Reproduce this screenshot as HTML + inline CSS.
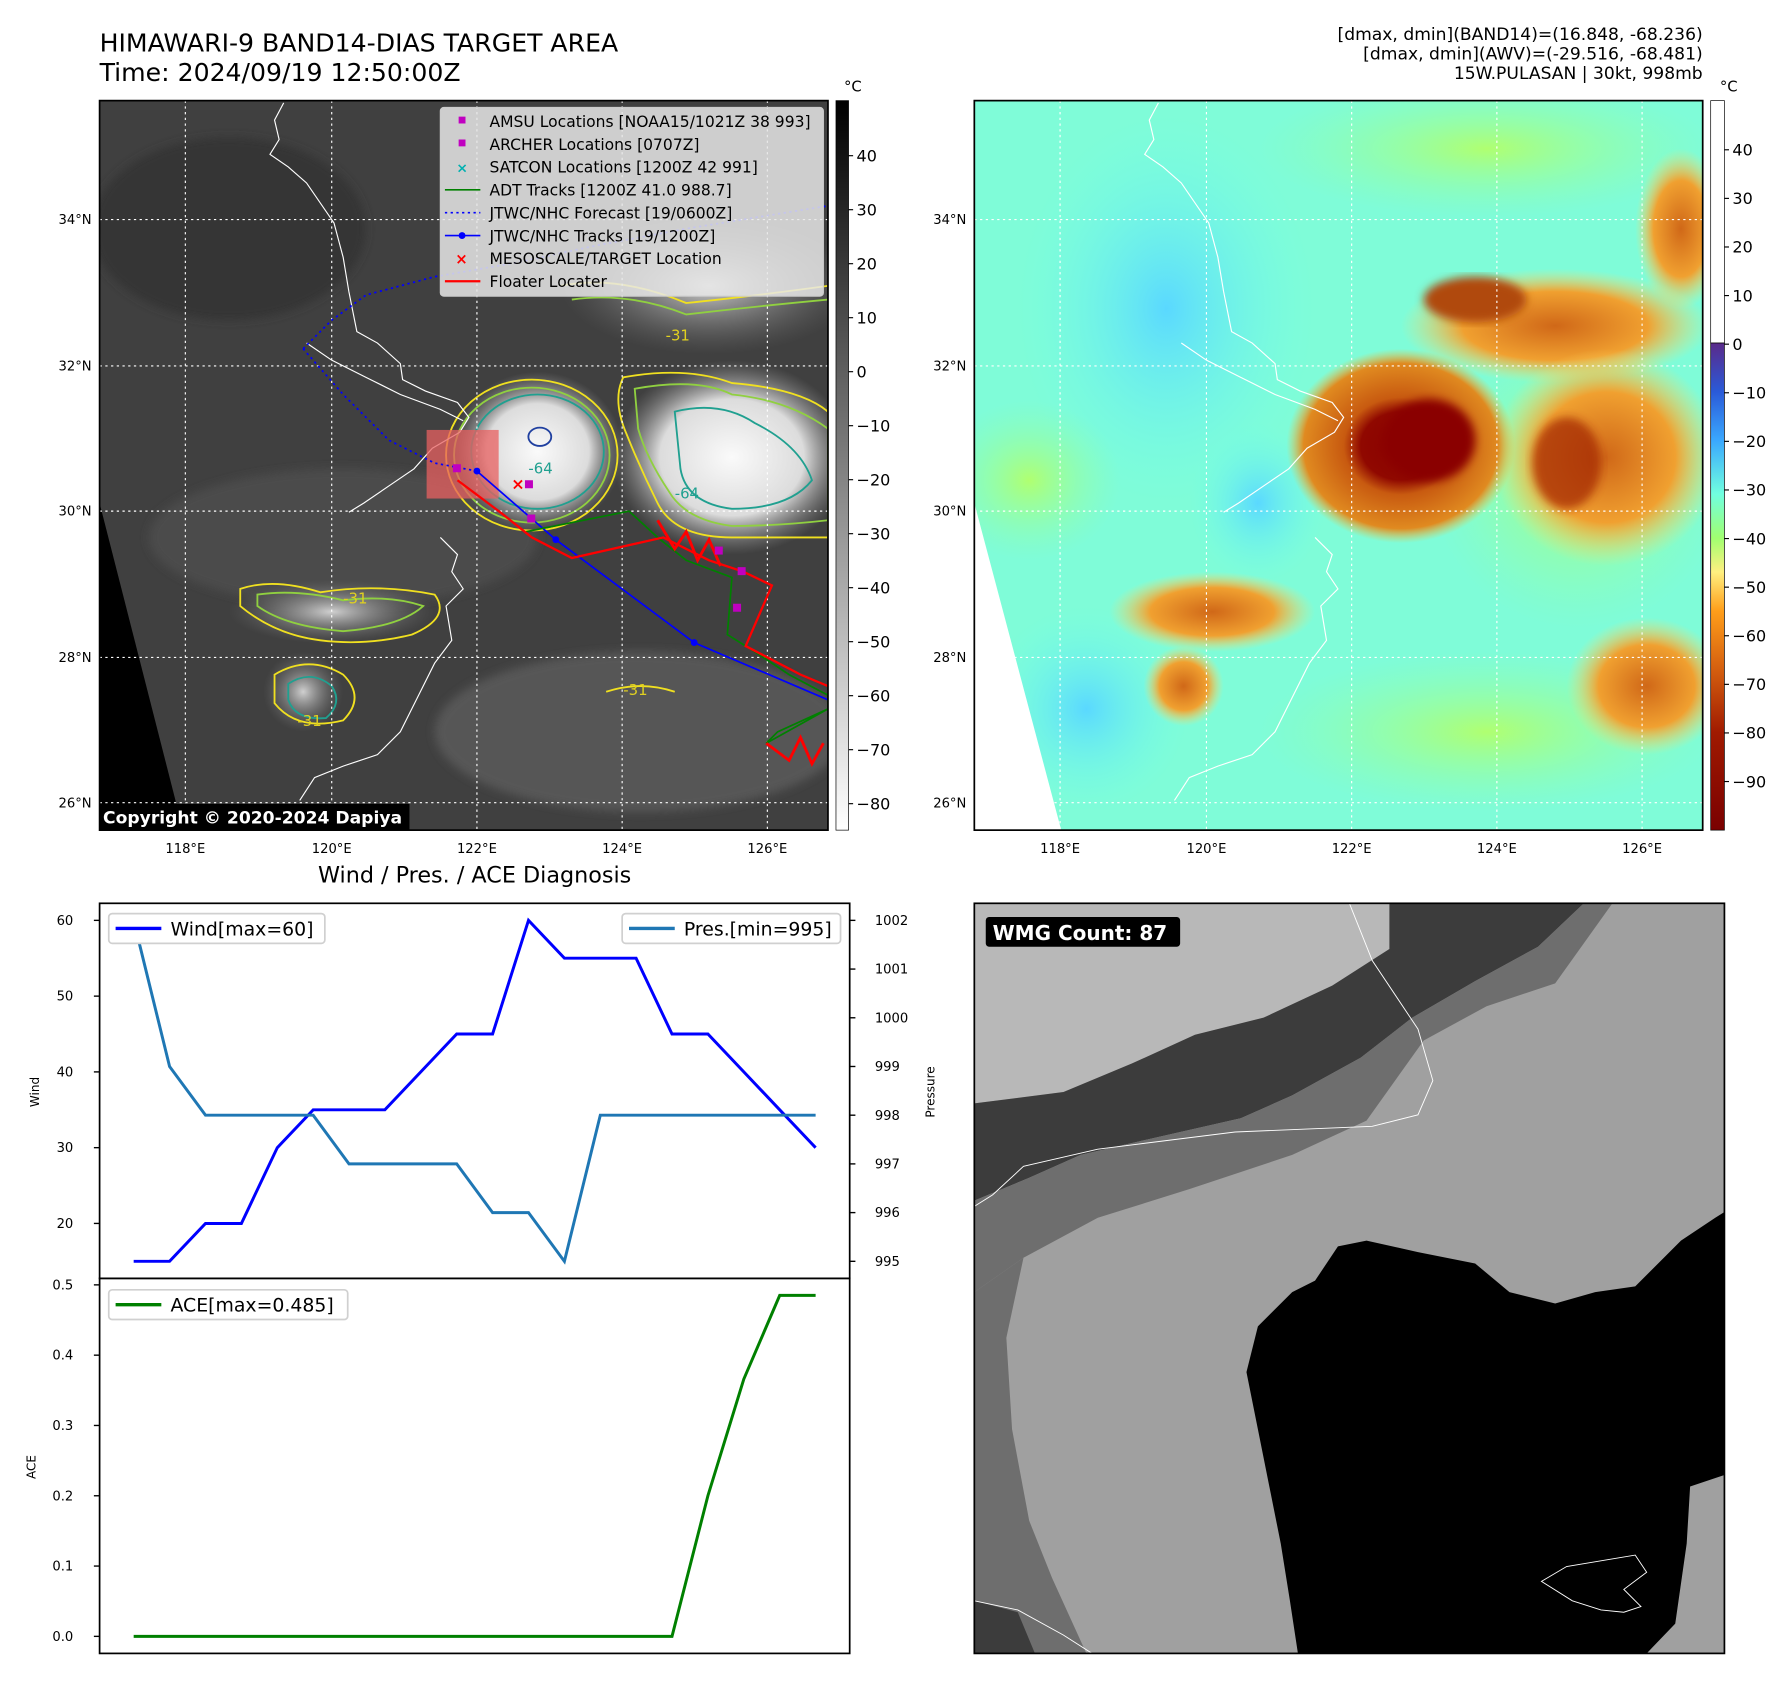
<!DOCTYPE html>
<html><head><meta charset="utf-8">
<style>
html,body{margin:0;padding:0;background:#fff;}
svg{display:block;font-family:"DejaVu Sans","Liberation Sans",sans-serif;}
</style></head>
<body>
<svg id="root" width="1792" height="1690" viewBox="0 0 1567 1478" xmlns="http://www.w3.org/2000/svg">
<defs>
  <linearGradient id="cb1" x1="0" y1="0" x2="0" y2="1">
    <stop offset="0" stop-color="#000"/><stop offset="1" stop-color="#fff"/>
  </linearGradient>
  <linearGradient id="cb2" x1="0" y1="0" x2="0" y2="1">
    <stop offset="0" stop-color="#5a2a8a"/>
    <stop offset="0.1" stop-color="#2a5ad8"/>
    <stop offset="0.2" stop-color="#3aa8ff"/>
    <stop offset="0.31" stop-color="#70ffe0"/>
    <stop offset="0.4" stop-color="#a0ff70"/>
    <stop offset="0.47" stop-color="#fff080"/>
    <stop offset="0.55" stop-color="#ff9e1a"/>
    <stop offset="0.66" stop-color="#d86410"/>
    <stop offset="0.8" stop-color="#a01a00"/>
    <stop offset="1" stop-color="#7a0000"/>
  </linearGradient>
  <radialGradient id="stormW"><stop offset="0" stop-color="#fafafa"/><stop offset="0.6" stop-color="#dcdcdc"/><stop offset="1" stop-color="#909090" stop-opacity="0"/></radialGradient>
  <radialGradient id="cloudW"><stop offset="0" stop-color="#d0d0d0"/><stop offset="1" stop-color="#707070" stop-opacity="0"/></radialGradient>
  <radialGradient id="stormO"><stop offset="0" stop-color="#8a0000"/><stop offset="0.35" stop-color="#900800"/><stop offset="0.5" stop-color="#c85a10"/><stop offset="0.85" stop-color="#e08a20"/><stop offset="1" stop-color="#f0c040" stop-opacity="0"/></radialGradient>
  <radialGradient id="cloudO"><stop offset="0" stop-color="#d06818"/><stop offset="0.6" stop-color="#f0a030"/><stop offset="1" stop-color="#f8e070" stop-opacity="0"/></radialGradient>
  <radialGradient id="blueArea"><stop offset="0" stop-color="#5ad8ff"/><stop offset="1" stop-color="#70ffe8" stop-opacity="0"/></radialGradient>
  <radialGradient id="greenArea"><stop offset="0" stop-color="#b0ff70"/><stop offset="1" stop-color="#90ffb0" stop-opacity="0"/></radialGradient>
  <clipPath id="clipL"><rect x="87" y="88" width="637" height="638"/></clipPath>
  <clipPath id="clipR"><rect x="852" y="88" width="637" height="638"/></clipPath>
  <clipPath id="clipB"><rect x="852" y="790" width="656" height="656"/></clipPath>
  <filter id="blur4"><feGaussianBlur stdDeviation="4"/></filter>
</defs>

<text x="87" y="45" font-size="22" fill="#000">HIMAWARI-9 BAND14-DIAS TARGET AREA</text>
<text x="87" y="71" font-size="22" fill="#000">Time: 2024/09/19 12:50:00Z</text>
<g font-size="15" text-anchor="end" fill="#000">
  <text x="1489" y="35">[dmax, dmin](BAND14)=(16.848, -68.236)</text>
  <text x="1489" y="52">[dmax, dmin](AWV)=(-29.516, -68.481)</text>
  <text x="1489" y="69">15W.PULASAN | 30kt, 998mb</text>
</g>

<!-- LEFT MAP -->
<g clip-path="url(#clipL)">
  <rect x="87" y="88" width="637" height="638" fill="#404040"/>
  <ellipse cx="200" cy="200" rx="120" ry="80" fill="#353535" filter="url(#blur4)"/>
  <ellipse cx="300" cy="470" rx="170" ry="60" fill="#4c4c4c" filter="url(#blur4)"/>
  <ellipse cx="560" cy="640" rx="180" ry="70" fill="#575757" filter="url(#blur4)"/>
  <ellipse cx="620" cy="250" rx="130" ry="60" fill="url(#cloudW)"/>
  <ellipse cx="640" cy="400" rx="105" ry="85" fill="url(#stormW)"/>
  <ellipse cx="470" cy="395" rx="75" ry="70" fill="url(#stormW)"/>
  <ellipse cx="290" cy="535" rx="90" ry="28" fill="url(#cloudW)"/>
  <ellipse cx="265" cy="605" rx="35" ry="35" fill="url(#cloudW)"/>
  <polygon points="87,440 160,726 87,726" fill="#000"/>
  <g fill="none" stroke-width="1.6">
    <ellipse cx="465" cy="398" rx="75" ry="66" stroke="#f0e020"/>
    <ellipse cx="465" cy="398" rx="68" ry="59" stroke="#90d040"/>
    <ellipse cx="470" cy="395" rx="58" ry="50" stroke="#20a090"/>
    <ellipse cx="472" cy="382" rx="10" ry="8" stroke="#2040a0"/>
    <path d="M545,330 Q600,320 640,335 Q700,340 724,360 L724,470 Q680,470 640,470 Q590,470 575,440 Q560,410 548,380 Q535,350 545,330 Z" stroke="#f0e020"/>
    <path d="M555,340 Q610,330 640,345 Q690,350 724,375 L724,455 Q680,460 640,460 Q600,455 585,430 Q565,400 558,375 Z" stroke="#90d040"/>
    <path d="M590,360 Q630,350 660,370 Q700,390 710,420 Q690,445 640,445 Q600,440 595,410 Z" stroke="#20a090"/>
    <path d="M210,515 Q240,505 280,518 Q330,510 380,520 Q395,540 360,555 Q320,565 280,560 Q240,555 210,530 Z" stroke="#f0e020"/>
    <path d="M225,520 Q260,515 300,525 Q340,520 370,530 Q350,548 300,552 Q250,548 225,530 Z" stroke="#90d040"/>
    <path d="M240,590 Q270,572 300,590 Q320,610 300,630 Q260,640 240,615 Z" stroke="#f0e020"/>
    <path d="M252,598 Q272,585 290,600 Q300,615 285,628 Q258,630 252,612 Z" stroke="#20a090"/>
    <path d="M490,250 Q540,240 600,265 Q650,260 724,250" stroke="#f0e020"/>
    <path d="M500,262 Q550,255 600,275 Q660,268 724,262" stroke="#90d040"/>
    <path d="M530,605 Q560,595 590,605" stroke="#f0e020"/>
  </g>
  <g font-size="13" fill="#e0d020">
    <text x="582" y="298">-31</text><text x="545" y="608">-31</text><text x="260" y="635">-31</text><text x="300" y="528">-31</text>
  </g>
  <g font-size="13" fill="#20a090"><text x="590" y="436">-64</text><text x="462" y="414">-64</text></g>
  <g stroke="#fff" stroke-width="1" stroke-dasharray="2,3">
    <line x1="162" y1="88" x2="162" y2="726"/><line x1="290" y1="88" x2="290" y2="726"/><line x1="417" y1="88" x2="417" y2="726"/><line x1="544" y1="88" x2="544" y2="726"/><line x1="671" y1="88" x2="671" y2="726"/>
    <line x1="87" y1="192" x2="724" y2="192"/><line x1="87" y1="320" x2="724" y2="320"/><line x1="87" y1="447" x2="724" y2="447"/><line x1="87" y1="575" x2="724" y2="575"/><line x1="87" y1="702" x2="724" y2="702"/>
  </g>
  <g fill="none" stroke="#fff" stroke-width="1">
    <path id="coast" d="M248,90 L240,105 L244,122 L236,135 L252,146 L268,160 L292,195 L300,225 L305,255 L312,290 L330,300 L350,318 L352,332 L372,342 L400,352 L410,365 L402,378 L378,392 L362,410 L340,425 L318,440 L305,448 M268,300 L290,315 L320,330 L350,345 L385,358 L405,368 M385,470 L400,485 L395,500 L405,515 L390,530 L395,560 L380,580 L365,610 L350,640 L330,660 L300,670 L275,680 L262,700"/>
  </g>
  <rect x="373" y="376" width="63" height="60" fill="#e86060" opacity="0.75"/>
  <polyline points="265,305 290,280 320,258 380,242 450,230 520,215 600,200 724,180" fill="none" stroke="#0000ff" stroke-width="1.5" stroke-dasharray="2,3"/>
  <polyline points="265,305 300,345 340,385 380,405 417,412" fill="none" stroke="#0000ff" stroke-width="1.5" stroke-dasharray="2,3"/>
  <polyline points="417,412 486,472 607,562 724,612" fill="none" stroke="#0000ff" stroke-width="1.5"/>
  <g fill="#0000ff"><circle cx="417" cy="412" r="3"/><circle cx="486" cy="472" r="3"/><circle cx="607" cy="562" r="3"/></g>
  <polyline points="460,465 550,447 575,470 600,490 640,505 636,555 660,570 690,590 724,608 724,620 680,640 670,650 724,620" fill="none" stroke="#008000" stroke-width="1.5"/>
  <polyline points="400,420 440,450 465,470 500,488 580,470 620,490 650,500 675,512 652,565 700,590 724,600 M680,650 724,630" fill="none" stroke="#ff0000" stroke-width="2"/>
  <path d="M575,455 L590,480 L600,465 L610,490 L620,472 L630,495 M670,650 L690,665 L700,645 L710,668 L720,650" fill="none" stroke="#ff0000" stroke-width="2.5"/>
  <g fill="#c000c0"><rect x="396" y="406" width="7" height="7"/><rect x="459" y="420" width="7" height="7"/><rect x="461" y="450" width="7" height="7"/><rect x="625" y="478" width="7" height="7"/><rect x="645" y="496" width="7" height="7"/><rect x="641" y="528" width="7" height="7"/></g>
  <text x="447" y="428" font-size="14" font-weight="bold" fill="#ff0000">×</text>
  <g>
    <rect x="385" y="94" width="335" height="165" rx="3" fill="#e8e8e8" fill-opacity="0.85" stroke="#ccc"/>
    <g font-size="13.6" fill="#000">
      <rect x="401" y="102" width="6" height="6" fill="#c000c0"/><text x="428" y="111">AMSU Locations [NOAA15/1021Z 38 993]</text>
      <rect x="401" y="122" width="6" height="6" fill="#c000c0"/><text x="428" y="131">ARCHER Locations [0707Z]</text>
      <text x="399" y="151" fill="#00b0b0" font-size="12" font-weight="bold">×</text><text x="428" y="151">SATCON Locations [1200Z 42 991]</text>
      <line x1="389" y1="166" x2="420" y2="166" stroke="#008000" stroke-width="1.5"/><text x="428" y="171">ADT Tracks [1200Z 41.0 988.7]</text>
      <line x1="389" y1="186" x2="420" y2="186" stroke="#0000ff" stroke-width="1.5" stroke-dasharray="2,3"/><text x="428" y="191">JTWC/NHC Forecast [19/0600Z]</text>
      <line x1="389" y1="206" x2="420" y2="206" stroke="#0000ff" stroke-width="1.5"/><circle cx="404" cy="206" r="3" fill="#0000ff"/><text x="428" y="211">JTWC/NHC Tracks [19/1200Z]</text>
      <text x="398" y="231" fill="#ff0000" font-size="13" font-weight="bold">×</text><text x="428" y="231">MESOSCALE/TARGET Location</text>
      <line x1="389" y1="246" x2="420" y2="246" stroke="#ff0000" stroke-width="2"/><text x="428" y="251">Floater Locater</text>
    </g>
  </g>
  <rect x="87" y="703" width="271" height="23" fill="#000"/>
  <text x="90" y="720" font-size="15" font-weight="bold" fill="#fff">Copyright © 2020-2024 Dapiya</text>
</g>
<rect x="87" y="88" width="637" height="638" fill="none" stroke="#000" stroke-width="1.5"/>
<g font-size="11.5" text-anchor="end" fill="#000">
  <text x="80" y="196">34°N</text><text x="80" y="324">32°N</text><text x="80" y="451">30°N</text><text x="80" y="579">28°N</text><text x="80" y="706">26°N</text>
</g>
<g font-size="11.5" text-anchor="middle" fill="#000">
  <text x="162" y="746">118°E</text><text x="290" y="746">120°E</text><text x="417" y="746">122°E</text><text x="544" y="746">124°E</text><text x="671" y="746">126°E</text>
</g>
<rect x="731" y="88" width="11" height="638" fill="url(#cb1)" stroke="#000" stroke-width="0.6"/>
<text x="738" y="80" font-size="13">°C</text>
<g id="cb1labels" font-size="14" fill="#000"></g>

<!-- RIGHT MAP -->
<g clip-path="url(#clipR)">
  <rect x="852" y="88" width="637" height="638" fill="#7ffcd8"/>
  <ellipse cx="1020" cy="270" rx="130" ry="170" fill="url(#blueArea)"/>
  <ellipse cx="1100" cy="440" rx="60" ry="70" fill="url(#blueArea)"/>
  <ellipse cx="950" cy="620" rx="90" ry="90" fill="url(#blueArea)"/>
  <ellipse cx="900" cy="420" rx="80" ry="70" fill="url(#greenArea)"/>
  <ellipse cx="1300" cy="130" rx="200" ry="60" fill="url(#greenArea)"/>
  <ellipse cx="1300" cy="640" rx="200" ry="70" fill="url(#greenArea)"/>
  <ellipse cx="1440" cy="600" rx="70" ry="60" fill="url(#cloudO)"/>
  <ellipse cx="1380" cy="420" rx="130" ry="130" fill="url(#greenArea)"/>
  <ellipse cx="1470" cy="200" rx="40" ry="70" fill="url(#cloudO)"/>
  <ellipse cx="1360" cy="285" rx="135" ry="50" fill="url(#cloudO)"/>
  <ellipse cx="1405" cy="400" rx="100" ry="95" fill="url(#cloudO)"/>
  <ellipse cx="1370" cy="405" rx="30" ry="40" fill="#a02000" opacity="0.7" filter="url(#blur4)"/>
  <ellipse cx="1225" cy="390" rx="100" ry="85" fill="url(#stormO)"/>
  <ellipse cx="1250" cy="385" rx="40" ry="36" fill="#8a0000" filter="url(#blur4)"/>
  <ellipse cx="1290" cy="262" rx="45" ry="20" fill="#b04a10" filter="url(#blur4)"/>
  <ellipse cx="1060" cy="535" rx="90" ry="35" fill="url(#cloudO)"/>
  <ellipse cx="1035" cy="600" rx="35" ry="35" fill="url(#cloudO)"/>
  <polygon points="852,440 928,726 852,726" fill="#fff"/>
  <g stroke="#fff" stroke-width="1" stroke-dasharray="2,3">
    <line x1="927" y1="88" x2="927" y2="726"/><line x1="1055" y1="88" x2="1055" y2="726"/><line x1="1182" y1="88" x2="1182" y2="726"/><line x1="1309" y1="88" x2="1309" y2="726"/><line x1="1436" y1="88" x2="1436" y2="726"/>
    <line x1="852" y1="192" x2="1489" y2="192"/><line x1="852" y1="320" x2="1489" y2="320"/><line x1="852" y1="447" x2="1489" y2="447"/><line x1="852" y1="575" x2="1489" y2="575"/><line x1="852" y1="702" x2="1489" y2="702"/>
  </g>
  <use href="#coast" transform="translate(765,0)" fill="none" stroke="#fff" stroke-width="1"/>
</g>
<rect x="852" y="88" width="637" height="638" fill="none" stroke="#000" stroke-width="1.5"/>
<g font-size="11.5" text-anchor="end" fill="#000">
  <text x="845" y="196">34°N</text><text x="845" y="324">32°N</text><text x="845" y="451">30°N</text><text x="845" y="579">28°N</text><text x="845" y="706">26°N</text>
</g>
<g font-size="11.5" text-anchor="middle" fill="#000">
  <text x="927" y="746">118°E</text><text x="1055" y="746">120°E</text><text x="1182" y="746">122°E</text><text x="1309" y="746">124°E</text><text x="1436" y="746">126°E</text>
</g>
<rect x="1496" y="88" width="12" height="212" fill="#fff" stroke="#000" stroke-width="0.6"/>
<rect x="1496" y="300" width="12" height="426" fill="url(#cb2)" stroke="#000" stroke-width="0.6"/>
<text x="1504" y="80" font-size="13">°C</text>
<g id="cb2labels" font-size="14" fill="#000"></g>

<!-- BOTTOM RIGHT -->
<g clip-path="url(#clipB)">
  <rect x="852" y="790" width="656" height="656" fill="#a0a0a0"/>
  <polygon points="852,790 1222,790 1215,830 1165,862 1105,890 1045,905 990,930 930,955 852,965" fill="#b8b8b8"/>
  <polygon points="1215,790 1385,790 1345,828 1290,858 1235,890 1190,925 1130,958 1085,978 1010,995 945,1010 900,1030 852,1050 852,965 930,955 990,930 1045,905 1105,890 1165,862 1215,830" fill="#3c3c3c"/>
  <polygon points="1385,790 1410,790 1360,860 1300,880 1245,910 1195,980 1130,1010 1040,1040 960,1065 895,1100 852,1130 852,1050 900,1030 945,1010 1010,995 1085,978 1130,958 1190,925 1235,890 1290,858 1345,828" fill="#6e6e6e"/>
  <polygon points="852,1130 895,1100 880,1170 885,1250 900,1330 920,1380 950,1446 852,1446" fill="#6e6e6e"/>
  <polygon points="852,1400 890,1410 905,1446 852,1446" fill="#3c3c3c"/>
  <polygon points="1170,1090 1195,1085 1240,1095 1290,1105 1320,1130 1360,1140 1395,1130 1430,1125 1470,1085 1500,1065 1508,1060 1508,1290 1478,1300 1475,1350 1465,1420 1440,1446 1135,1446 1128,1400 1120,1350 1110,1300 1100,1250 1090,1200 1100,1160 1130,1130 1150,1120" fill="#000"/>
  <path d="M852,1055 L868,1045 L895,1020 L960,1005 L1080,990 L1200,985 L1240,975 L1253,945 L1240,900 L1200,840 L1180,790" fill="none" stroke="#fff" stroke-width="0.8"/>
  <path d="M852,1400 L890,1408 L930,1430 L955,1446" fill="none" stroke="#fff" stroke-width="0.8"/>
  <path d="M1348,1383 L1370,1370 L1400,1365 L1430,1360 L1440,1375 L1420,1390 L1435,1405 L1420,1410 L1400,1408 L1375,1400 Z" fill="none" stroke="#fff" stroke-width="0.8"/>
</g>
<rect x="852" y="790" width="656" height="656" fill="none" stroke="#000" stroke-width="1.5"/>
<rect x="862" y="802" width="170" height="26" rx="3" fill="#000"/>
<text x="868" y="822" font-size="17.5" font-weight="bold" fill="#fff">WMG Count: 87</text>

<text x="415" y="772" font-size="19.5" text-anchor="middle" fill="#000">Wind / Pres. / ACE Diagnosis</text>
<g id="chart"></g>
</svg>

<script>
const NS = "http://www.w3.org/2000/svg";
const steps = [0,1,2,3,4,5,6,7,8,9,10,11,12,13,14,15,16,17,18,19];
const windValues = [15,15,20,20,30,35,35,35,40,45,45,60,55,55,55,45,45,40,35,30];
const presValues = [1002,999,998,998,998,998,997,997,997,997,996,996,995,998,998,998,998,998,998,998];
const aceValues = [0,0,0,0,0,0,0,0,0,0,0,0,0,0,0,0,0.2,0.366,0.485,0.485];
const windTicks = [20,30,40,50,60];
const presTicks = [995,996,997,998,999,1000,1001,1002];
const aceTicks = [0.0,0.1,0.2,0.3,0.4,0.5];
const ir_cbTicks = [40,30,20,10,0,-10,-20,-30,-40,-50,-60,-70,-80];
const awv_cbTicks = [40,30,20,10,0,-10,-20,-30,-40,-50,-60,-70,-80,-90];

function mk(tag, attrs, parent){const e=document.createElementNS(NS,tag);for(const k in attrs)e.setAttribute(k,attrs[k]);(parent||document.getElementById('chart')).appendChild(e);return e;}
function ext(a){const lo=Math.min(...a),hi=Math.max(...a),m=(hi-lo)*0.05;return [lo-m,hi+m];}
function fmt(v){return (v<0?'\u2212':'')+Math.abs(v);}

const cb1=document.getElementById('cb1labels');
ir_cbTicks.forEach(v=>{const y=88+(50.2-v)/(50.2+84.9)*638;
  const t=mk('text',{x:749,y:y+5},cb1);t.textContent=fmt(v);
  
  
  mk('line',{x1:742,y1:y,x2:746,y2:y,stroke:'#000'},cb1);});
const cb2=document.getElementById('cb2labels');
awv_cbTicks.forEach(v=>{const y=301+(0-v)*4.25;
  const t=mk('text',{x:1515,y:y+5},cb2);t.textContent=fmt(v);
  
  
  mk('line',{x1:1508,y1:y,x2:1512,y2:y,stroke:'#000'},cb2);});

const L=87,R=743,T1=790,B1=1118,T2=1118,B2=1446;
const xd=ext(steps);
const X=i=>L+(i-xd[0])/(xd[1]-xd[0])*(R-L);
const wd=ext(windValues), pd=ext(presValues), ad=ext(aceValues);
const YW=v=>B1-(v-wd[0])/(wd[1]-wd[0])*(B1-T1);
const YP=v=>B1-(v-pd[0])/(pd[1]-pd[0])*(B1-T1);
const YA=v=>B2-(v-ad[0])/(ad[1]-ad[0])*(B2-T2);

function line(vals,Y,color,name){
  const d=vals.map((v,i)=>(i?'L':'M')+X(steps[i]).toFixed(1)+','+Y(v).toFixed(1)).join(' ');
  const p=mk('path',{d:d,fill:'none',stroke:color,'stroke-width':2.6,'stroke-linejoin':'miter'});
  
  
}
line(windValues,YW,'#0000ff','wind-line');
line(presValues,YP,'#1f77b4','pressure-line');
line(aceValues,YA,'#008000','ace-line');

mk('rect',{x:L,y:T1,width:R-L,height:B1-T1,fill:'none',stroke:'#000','stroke-width':1.5});
mk('rect',{x:L,y:T2,width:R-L,height:B2-T2,fill:'none',stroke:'#000','stroke-width':1.5});

windTicks.forEach(v=>{const y=YW(v);mk('line',{x1:L-5,y1:y,x2:L,y2:y,stroke:'#000','stroke-width':1.2});
  const t=mk('text',{x:L-23,y:y+4,'font-size':11.5,'text-anchor':'end'});t.textContent=v;
  
  });
presTicks.forEach(v=>{const y=YP(v);mk('line',{x1:R,y1:y,x2:R+5,y2:y,stroke:'#000','stroke-width':1.2});
  const t=mk('text',{x:R+22,y:y+4,'font-size':11.5});t.textContent=v;
  
  });
aceTicks.forEach(v=>{const y=YA(v);mk('line',{x1:L-5,y1:y,x2:L,y2:y,stroke:'#000','stroke-width':1.2});
  const t=mk('text',{x:L-23,y:y+4,'font-size':11.5,'text-anchor':'end'});t.textContent=v.toFixed(1);
  
  });

let t;
t=mk('text',{x:34,y:955,'font-size':10.5,'text-anchor':'middle',transform:'rotate(-90 34 955)'});t.textContent='Wind';


t=mk('text',{x:817,y:955,'font-size':10.5,'text-anchor':'middle',transform:'rotate(-90 817 955)'});t.textContent='Pressure';


t=mk('text',{x:31,y:1283,'font-size':10.5,'text-anchor':'middle',transform:'rotate(-90 31 1283)'});t.textContent='ACE';



function legend(x,y,w,color,label,name){
  const g=mk('g',{});
  
  
  mk('rect',{x:x,y:y,width:w,height:26,rx:3,fill:'#fff',stroke:'#d0d0d0','stroke-width':1.5},g);
  mk('line',{x1:x+6,y1:y+13,x2:x+46,y2:y+13,stroke:color,'stroke-width':3},g);
  const tt=mk('text',{x:x+54,y:y+19,'font-size':16.5},g);tt.textContent=label;
}
legend(95,799,189,'#0000ff','Wind[max=60]','wind-legend');
legend(544,799,191,'#1f77b4','Pres.[min=995]','pressure-legend');
legend(95,1128,209,'#008000','ACE[max=0.485]','ace-legend');
</script>
</body></html>
